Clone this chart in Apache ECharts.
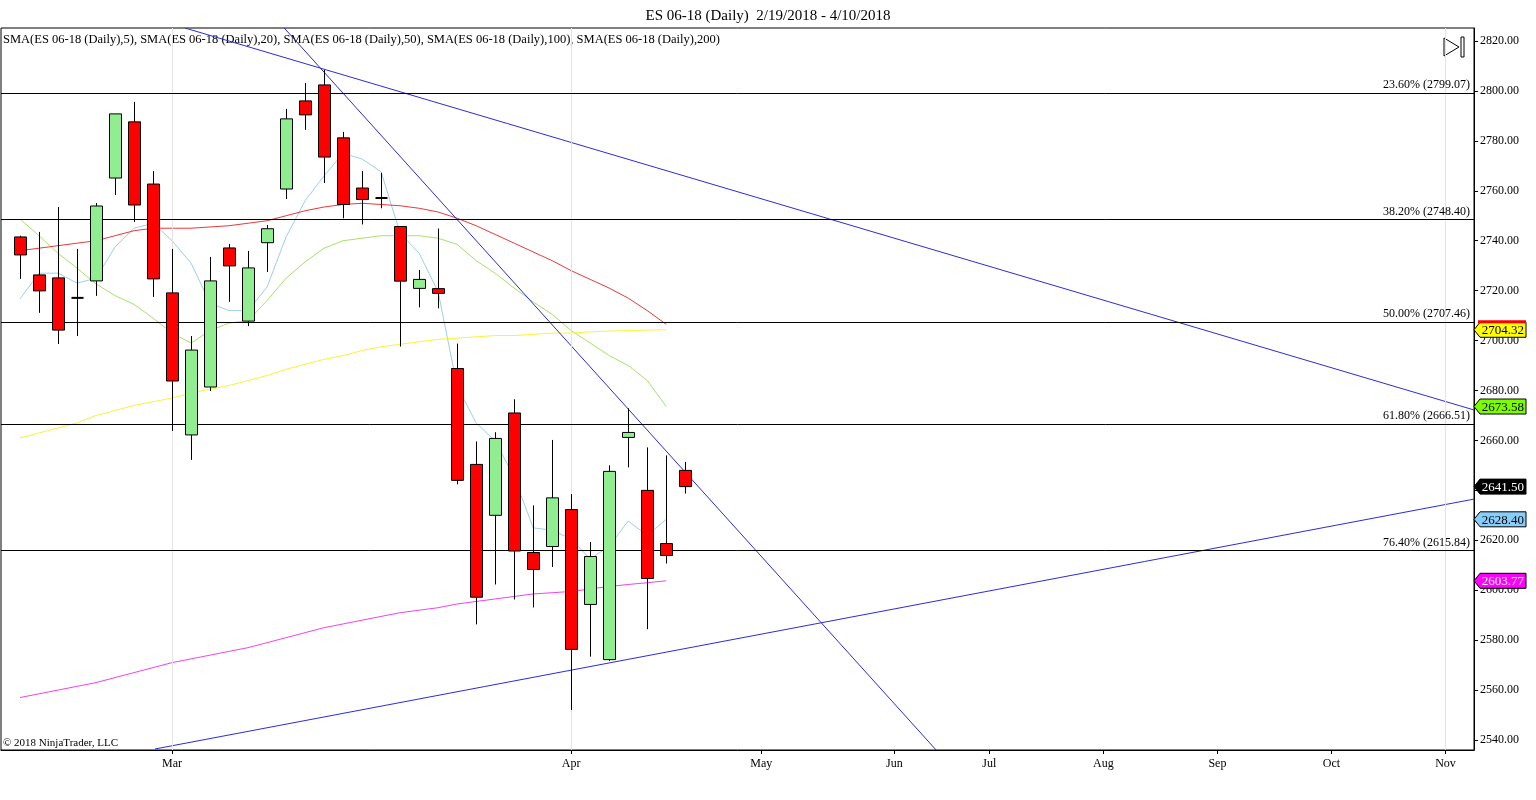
<!DOCTYPE html>
<html>
<head>
<meta charset="utf-8">
<script src="https://cdn.jsdelivr.net/npm/echarts@6/dist/echarts.min.js"></script>
<style>
  html, body { margin: 0; padding: 0; background: #fff; }
  #chart { width: 1536px; height: 800px; }
</style>
</head>
<body>
<div id="chart"></div>
<script>
// daily bars, index 0 = 2/20/2018 ... 35 = 4/10/2018 : [open, close, low, high]
var ohlc = [
    [2741.5, 2734.3, 2724.7, 2742.0], [2726.3, 2719.9, 2711.1, 2743.5],
    [2725.1, 2704.2, 2698.6, 2753.5], [2717.1, 2717.1, 2701.8, 2736.7],
    [2723.9, 2753.9, 2717.9, 2755.1], [2765.1, 2790.8, 2758.3, 2790.8],
    [2787.6, 2754.3, 2747.5, 2795.6], [2762.7, 2724.7, 2717.5, 2767.9],
    [2719.1, 2683.8, 2663.8, 2736.7], [2662.2, 2696.2, 2652.2, 2701.8],
    [2681.4, 2723.9, 2679.8, 2733.5], [2737.1, 2729.9, 2715.5, 2738.7],
    [2707.8, 2729.1, 2705.8, 2735.9], [2739.2, 2744.8, 2727.5, 2746.3],
    [2760.7, 2788.8, 2756.7, 2792.8], [2796.0, 2790.4, 2784.4, 2803.2],
    [2802.4, 2773.5, 2763.1, 2808.4], [2781.2, 2754.5, 2749.0, 2783.6],
    [2761.1, 2756.5, 2746.5, 2767.9], [2757.1, 2757.1, 2753.0, 2767.2],
    [2745.7, 2723.8, 2697.6, 2745.7], [2720.9, 2724.5, 2713.3, 2728.3],
    [2720.8, 2718.9, 2712.9, 2744.9], [2688.8, 2644.0, 2642.4, 2698.8],
    [2650.4, 2597.2, 2586.3, 2659.6], [2630.0, 2660.8, 2602.3, 2663.3],
    [2671.0, 2615.7, 2596.3, 2676.5], [2615.1, 2608.3, 2593.1, 2634.0],
    [2617.5, 2637.0, 2609.3, 2660.2], [2632.3, 2576.3, 2552.0, 2638.5],
    [2594.3, 2613.5, 2573.4, 2619.3], [2572.2, 2647.6, 2571.7, 2650.0],
    [2661.2, 2663.2, 2649.2, 2672.9], [2640.0, 2604.7, 2584.4, 2657.2],
    [2618.7, 2613.9, 2610.7, 2654.0], [2648.0, 2641.5, 2638.7, 2651.4]
];

var sma5 = [2716.7, 2727, 2727, 2723, 2725, 2737.5, 2745, 2747, 2740, 2731, 2715, 2712,
    2712, 2721.5, 2741.5, 2756, 2766, 2775, 2772.7, 2767.6, 2742.9, 2735, 2719.5, 2681.7,
    2667, 2659.8, 2645.3, 2625, 2624, 2620.5, 2612.5, 2617.7, 2627.7, 2622, 2628.4];
var sma20 = [2748.7, 2742, 2735, 2729, 2722.7, 2718, 2714.5, 2709, 2703, 2699, 2704, 2707,
    2708, 2716, 2725, 2731.5, 2737, 2740, 2741, 2742, 2742, 2742, 2741, 2738.5, 2732, 2727,
    2721, 2715.5, 2710.5, 2704, 2699, 2694, 2690, 2684, 2673.58];
var sma50 = [2736, 2737, 2738, 2739, 2740, 2742, 2744, 2745, 2745, 2745, 2745.5, 2746, 2747,
    2748, 2750, 2752, 2753.5, 2754.5, 2755, 2754.5, 2754, 2753, 2751.5, 2749, 2746, 2742.5,
    2739, 2735.5, 2732, 2728, 2724.5, 2721, 2717, 2712, 2706.5];
var sma100 = [2661, 2663, 2665, 2667, 2670, 2672, 2674, 2675.5, 2677, 2679, 2680.5, 2682,
    2684, 2686, 2688.5, 2690.5, 2692.5, 2694, 2696, 2697.5, 2698.5, 2699.5, 2700.5, 2701,
    2701.5, 2702, 2702, 2702.5, 2703, 2703, 2703.5, 2703.8, 2704, 2704.2, 2704.32];
var sma200 = [2557, 2558.5, 2560, 2561.5, 2563, 2565, 2567, 2569, 2571, 2572.5, 2574, 2575.5,
    2577, 2579, 2581, 2583, 2585, 2586.5, 2588, 2589.5, 2591, 2592, 2593, 2594.5, 2595.5,
    2596.5, 2597.5, 2598.5, 2599, 2599.5, 2600.5, 2601.5, 2602.3, 2603, 2603.77];

// trend lines: [[index, price], [index, price]]
var trendUpper = [[8.68, 2825.2], [76.5, 2672.2]];
var trendSteep = [[13.9, 2825.2], [48.2, 2536.0]];
var trendLower = [[7.1, 2536.4], [76.5, 2636.5]];

var fibLevels = [2799.07, 2748.40, 2707.46, 2666.51, 2615.84, 2533.95];
var fibNames = ["23.60%", "38.20%", "50.00%", "61.80%", "76.40%", "100.00%"];

var monthIdx = [8, 29, 39, 46, 51, 57, 63, 69, 75];
var monthNames = ["Mar", "Apr", "May", "Jun", "Jul", "Aug", "Sep", "Oct", "Nov"];
var priceTicks = [2540, 2560, 2580, 2600, 2620, 2640, 2660, 2680, 2700, 2720, 2740, 2760, 2780, 2800, 2820];

// right-axis value markers: [price, fill, text colour, top strip]
var badges = [
    [2704.32, "#ffff00", "#000", "#ff0000"],
    [2673.58, "#7cfc00", "#000", null],
    [2641.50, "#000000", "#fff", null],
    [2628.40, "#87cefa", "#000", null],
    [2603.77, "#ff00ff", "#fff", null]
];

var FONT = "Liberation Serif";
var chart = echarts.init(document.getElementById("chart"));

function withIdx(arr) {
    return arr.map(function (v, i) { return [i, v]; });
}

var candleData = ohlc.map(function (d, i) { return [i, d[0], d[1], d[2], d[3]]; });

function renderCandle(params, api) {
    var x = api.value(0);
    var o = api.value(1), c = api.value(2), lo = api.value(3), hi = api.value(4);
    var pHi = api.coord([x, hi]), pLo = api.coord([x, lo]);
    var pO = api.coord([x, o]), pC = api.coord([x, c]);
    var w = 12;
    var top = Math.min(pO[1], pC[1]), h = Math.abs(pO[1] - pC[1]);
    var cx = Math.round(pHi[0]) + 0.5;
    var children = [{
        type: "line",
        shape: { x1: cx, y1: pHi[1], x2: cx, y2: pLo[1] },
        style: { stroke: "#000", lineWidth: 1 }
    }];
    if (h < 1) {
        children.push({
            type: "line",
            shape: { x1: cx - w / 2, y1: top, x2: cx + w / 2, y2: top },
            style: { stroke: "#000", lineWidth: 2 }
        });
    } else {
        children.push({
            type: "rect",
            shape: { x: cx - w / 2, y: top, width: w, height: h },
            style: { fill: c >= o ? "#90ee90" : "#ff0000", stroke: "#000", lineWidth: 1 }
        });
    }
    return { type: "group", children: children };
}

function renderBadge(params, api) {
    var p = api.coord([76.5, api.value(0)]);
    var b = badges[params.dataIndex];
    var x = p[0], y = p[1], w = 52, h = 15;
    var children = [{
        type: "polygon",
        shape: { points: [[x, y], [x + 6, y - h / 2], [x + w, y - h / 2], [x + w, y + h / 2], [x + 6, y + h / 2]] },
        style: { fill: b[1], stroke: "#000", lineWidth: 1 }
    }, {
        type: "text",
        style: {
            x: x + w - 2, y: y + 1, text: api.value(0).toFixed(2), fill: b[2],
            font: "13px " + FONT, align: "right", verticalAlign: "middle"
        }
    }];
    if (b[3]) {
        children.push({
            type: "rect",
            shape: { x: x + 4, y: y - h / 2 - 2, width: w - 4, height: 3 },
            style: { fill: b[3] }
        });
    }
    return { type: "group", children: children };
}

function smaSeries(name, data, color) {
    return {
        name: name, type: "line", data: withIdx(data), symbol: "none", silent: true,
        lineStyle: { color: color, width: 1 }, z: 3
    };
}

function trendSeries(data) {
    return {
        type: "line", data: data, symbol: "none", silent: true,
        lineStyle: { color: "#2b2bd9", width: 1 }, z: 4
    };
}

var fibLines = fibLevels.map(function (v, i) {
    return {
        yAxis: v,
        label: {
            show: true, position: "insideEndTop", formatter: fibNames[i] + " (" + v.toFixed(2) + ")",
            color: "#000", fontFamily: FONT, fontSize: 12, distance: [4, 2]
        }
    };
});

var option = {
    animation: false,
    backgroundColor: "#fff",
    title: {
        text: "ES 06-18 (Daily)  2/19/2018 - 4/10/2018",
        left: "center", top: 4,
        textStyle: { fontFamily: FONT, fontSize: 15, fontWeight: "normal", color: "#000" }
    },
    grid: { left: 1, right: 62, top: 28, bottom: 50, show: true, borderColor: "#000", borderWidth: 1 },
    xAxis: {
        type: "value", min: -1, max: 76.5,
        axisLine: { show: true, onZero: false, lineStyle: { color: "#000" } },
        splitLine: { show: false },
        axisTick: { show: true, customValues: monthIdx, length: 4, lineStyle: { color: "#000" } },
        axisLabel: {
            customValues: monthIdx, color: "#000", fontFamily: FONT, fontSize: 12, margin: 8,
            formatter: function (v) { return monthNames[monthIdx.indexOf(Math.round(v))] || ""; }
        }
    },
    yAxis: {
        type: "value", position: "right", min: 2536, max: 2825.2,
        axisLine: { show: true, onZero: false, lineStyle: { color: "#000" } },
        splitLine: { show: false },
        axisTick: { show: true, customValues: priceTicks, length: 4, inside: false, lineStyle: { color: "#000" } },
        axisLabel: {
            customValues: priceTicks, color: "#000", fontFamily: FONT, fontSize: 12, margin: 6,
            formatter: function (v) { return v.toFixed(2); }
        }
    },
    graphic: [
        {
            type: "text", left: 3, top: 33,
            style: {
                text: "SMA(ES 06-18 (Daily),5), SMA(ES 06-18 (Daily),20), SMA(ES 06-18 (Daily),50), SMA(ES 06-18 (Daily),100), SMA(ES 06-18 (Daily),200)",
                fill: "#000", font: "12.5px " + FONT
            }
        },
        {
            type: "text", left: 3, top: 738,
            style: { text: "\u00a9 2018 NinjaTrader, LLC", fill: "#000", font: "11px " + FONT }
        },
        {
            type: "polyline", silent: true,
            shape: { points: [[1444, 38], [1459, 47], [1444, 56], [1444, 38]] },
            style: { stroke: "#000", fill: "none", lineWidth: 1 }
        },
        {
            type: "rect", silent: true,
            shape: { x: 1461, y: 37, width: 3, height: 20 },
            style: { stroke: "#000", fill: "none", lineWidth: 1 }
        }
    ],
    series: [
        {
            type: "line", data: [], silent: true,
            markLine: {
                symbol: "none", silent: true, animation: false,
                lineStyle: { color: "#e4e4e4", type: "solid", width: 1 },
                label: { show: false },
                data: [{ xAxis: 8 }, { xAxis: 29 }, { xAxis: 75 }]
            }
        },
        {
            type: "line", data: [], silent: true, z: 2,
            markLine: {
                symbol: "none", silent: true, animation: false,
                lineStyle: { color: "#000", type: "solid", width: 1 },
                data: fibLines
            }
        },
        smaSeries("SMA5", sma5, "#9ccfe8"),
        smaSeries("SMA20", sma20, "#a8e06a"),
        smaSeries("SMA50", sma50, "#e83a3a"),
        smaSeries("SMA100", sma100, "#f5f53a"),
        smaSeries("SMA200", sma200, "#ee44ee"),
        trendSeries(trendUpper),
        trendSeries(trendSteep),
        trendSeries(trendLower),
        {
            type: "custom", renderItem: renderCandle, data: candleData, z: 5,
            encode: { x: 0, y: [1, 2, 3, 4] }
        },
        {
            type: "custom", renderItem: renderBadge, clip: false, z: 10,
            data: badges.map(function (b) { return [b[0]]; }),
            encode: { y: 0 }
        }
    ]
};

chart.setOption(option);
</script>
</body>
</html>
